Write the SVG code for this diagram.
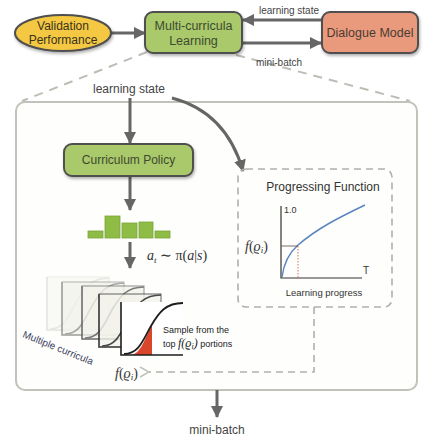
<svg xmlns="http://www.w3.org/2000/svg" width="438" height="443" viewBox="0 0 438 443">
<style>
.sans{font-family:"Liberation Sans",Arial,sans-serif}
.math{font-family:"Liberation Serif","Times New Roman",serif;font-style:italic}
.node{stroke:#4f4f4f;stroke-width:2}
.conn{stroke:#666;stroke-width:3;fill:none}
.lbl{font-size:10px;fill:#444}
.zoomline{stroke:#bdbdb5;stroke-width:2;stroke-dasharray:9 7;fill:none}
.pfdash{stroke:#b0b0aa;stroke-width:1.6;stroke-dasharray:7 5;fill:none}
</style>
<defs>
<filter id="sh" x="-20%" y="-20%" width="140%" height="150%">
<feDropShadow dx="1" dy="2" stdDeviation="1.5" flood-color="#000" flood-opacity="0.3"/>
</filter>
<marker id="ah" markerUnits="userSpaceOnUse" markerWidth="14" markerHeight="14" refX="11" refY="6" orient="auto">
<path d="M0,0 L12,6 L0,12 Z" fill="#666"/>
</marker>
<marker id="al" markerUnits="userSpaceOnUse" markerWidth="14" markerHeight="14" refX="1" refY="6" orient="auto">
<path d="M10,1 L1,6 L10,11" fill="none" stroke="#c2c2bc" stroke-width="1.6"/>
</marker>
<g id="panel">
<rect x="0" y="0" width="62" height="53" fill="#f2f2ec" opacity="0.85"/>
<path d="M0,0 V53 H62" fill="none" stroke-width="1.6"/>
<path d="M3,52 C18,52 22,38 30,24 C38,10 45,1 62,1" fill="none" stroke-width="1.6"/>
</g>
</defs>
<rect width="438" height="443" fill="#ffffff"/>

<!-- zoom-out dashed lines -->
<g id="zoom-lines">
<path class="zoomline" d="M147,52 L22,101"/>
<path class="zoomline" d="M236,55 L410,101"/>
</g>

<!-- big container -->
<g id="container">
<rect x="16" y="102" width="401" height="288" rx="9" fill="#fefefc" stroke="#c2c2ba" stroke-width="2"/>
</g>

<!-- connectors -->
<g id="connectors">
<path class="conn" d="M111,33 H145" marker-end="url(#ah)"/>
<path class="conn" d="M322,20 H243" marker-end="url(#ah)"/>
<path class="conn" d="M242,43 H321" marker-end="url(#ah)"/>
<path class="conn" d="M130,98 V143" marker-end="url(#ah)"/>
<path class="conn" d="M172,98 Q226,112 243,171" marker-end="url(#ah)"/>
<path class="conn" d="M130,177 V210" marker-end="url(#ah)"/>
<path class="conn" d="M130,242 V268" marker-end="url(#ah)"/>
<path class="conn" d="M217,390 V417" marker-end="url(#ah)"/>
<path class="pfdash" d="M314,307 V372 H149" marker-end="url(#al)"/>
<text class="sans lbl" x="289" y="14" text-anchor="middle">learning state</text>
<text class="sans lbl" x="279" y="66" text-anchor="middle">mini-batch</text>
<text class="sans" x="129" y="93" font-size="12" fill="#444" text-anchor="middle">learning state</text>
<text class="sans" x="217" y="434" font-size="12" fill="#444" text-anchor="middle">mini-batch</text>
</g>

<!-- top nodes -->
<g id="validation">
<ellipse class="node" cx="63" cy="33" rx="48" ry="18" fill="#f4c843" filter="url(#sh)"/>
<text class="sans" x="63" y="30" font-size="12" fill="#3a3320" text-anchor="middle">Validation</text>
<text class="sans" x="63" y="44" font-size="12" fill="#3a3320" text-anchor="middle">Performance</text>
</g>
<g id="multi-curricula">
<rect class="node" x="145" y="12" width="97" height="41" rx="8" fill="#a9c96a" filter="url(#sh)"/>
<text class="sans" x="193.500" y="30" font-size="12.500" fill="#3f4a30" text-anchor="middle">Multi-curricula</text>
<text class="sans" x="193.500" y="45" font-size="12.500" fill="#3f4a30" text-anchor="middle">Learning</text>
</g>
<g id="dialogue-model">
<rect class="node" x="322" y="12" width="96" height="41" rx="8" fill="#e99a7c" filter="url(#sh)"/>
<text class="sans" x="370" y="37" font-size="12.500" fill="#4a3a34" text-anchor="middle">Dialogue Model</text>
</g>

<!-- curriculum policy -->
<g id="curriculum-policy">
<rect class="node" x="64" y="144" width="129" height="32" rx="8" fill="#a9c96a" filter="url(#sh)"/>
<text class="sans" x="128.500" y="164" font-size="12" fill="#3f4a30" text-anchor="middle">Curriculum Policy</text>
</g>

<!-- distribution bars -->
<g id="policy-bars" fill="#8fbc45" stroke="#7aa33a" stroke-width="0.8">
<rect x="88" y="231" width="15" height="7"/>
<rect x="105" y="216" width="15" height="22"/>
<rect x="122" y="223" width="15" height="15"/>
<rect x="139" y="222" width="14" height="16"/>
<rect x="155" y="231" width="15" height="7"/>
</g>
<text class="math" x="147" y="260" font-size="14" fill="#333">a<tspan font-size="9" dy="3">t</tspan><tspan dy="-3" font-style="normal"> ∼ π(</tspan>a<tspan font-style="normal">|</tspan>s<tspan font-style="normal">)</tspan></text>

<!-- multiple curricula -->
<g id="curricula">
<use href="#panel" x="47" y="277" stroke="#d4d4cf" opacity="0.55"/>
<use href="#panel" x="62" y="282" stroke="#8a8a86" opacity="0.75"/>
<use href="#panel" x="82" y="286" stroke="#666" opacity="0.85"/>
<use href="#panel" x="99" y="294" stroke="#3a3a3a" opacity="0.92"/>
<g id="front-panel">
<rect x="121" y="302" width="62" height="54" fill="#ffffff"/>
<path d="M131,355 C140,354 144,341 149,331 L152,325 V355 Z" fill="#d9462b"/>
<path d="M121,302 V355 H183" fill="none" stroke="#1e1e1e" stroke-width="1.6"/>
<path d="M124,354 C139,354 143,340 151,326 C159,312 166,303 183,303" fill="none" stroke="#1e1e1e" stroke-width="1.8"/>
</g>
<text class="sans" x="163" y="333" font-size="9" fill="#222">Sample from the</text>
<text x="163" y="347" font-size="9" fill="#222"><tspan class="sans">top </tspan><tspan class="math" font-size="12">f</tspan><tspan class="math" font-size="12" font-style="normal">(</tspan><tspan class="math" font-size="12">ϱ</tspan><tspan class="math" font-size="8" dy="2">i</tspan><tspan class="math" font-size="12" font-style="normal" dy="-2">)</tspan><tspan class="sans"> portions</tspan></text>
<text class="sans" x="22" y="337" font-size="10" fill="#3b4163" transform="rotate(22 22 337)">Multiple curricula</text>
</g>
<text class="math" x="115" y="378" font-size="14" fill="#333">f<tspan font-style="normal">(</tspan>ϱ<tspan font-size="9" dy="2">i</tspan><tspan font-style="normal" dy="-2">)</tspan></text>

<!-- progressing function -->
<g id="progressing-function">
<rect class="pfdash" x="238" y="169" width="154" height="138" rx="8"/>
<text class="sans" x="323" y="191" font-size="12" fill="#333" text-anchor="middle">Progressing Function</text>
<path d="M281,206 V278 H362" fill="none" stroke="#333" stroke-width="1.2"/>
<path d="M282,277 C284,262 290,252 298,245 C318,228 338,218 365,205" fill="none" stroke="#5a86c0" stroke-width="1.5"/>
<path d="M281,246 H298" stroke="#5a4a40" stroke-width="0.8"/>
<path d="M298,246 V278" stroke="#d9462b" stroke-width="0.8" stroke-dasharray="1.5 1.5"/>
<text class="sans" x="284" y="213" font-size="9" fill="#333">1.0</text>
<text class="sans" x="363" y="274" font-size="10" fill="#333">T</text>
<text class="math" x="245" y="251" font-size="14" fill="#333">f<tspan font-style="normal">(</tspan>ϱ<tspan font-size="9" dy="2">i</tspan><tspan font-style="normal" dy="-2">)</tspan></text>
<text class="sans" x="324" y="296" font-size="9.500" fill="#333" text-anchor="middle">Learning progress</text>
</g>
</svg>
